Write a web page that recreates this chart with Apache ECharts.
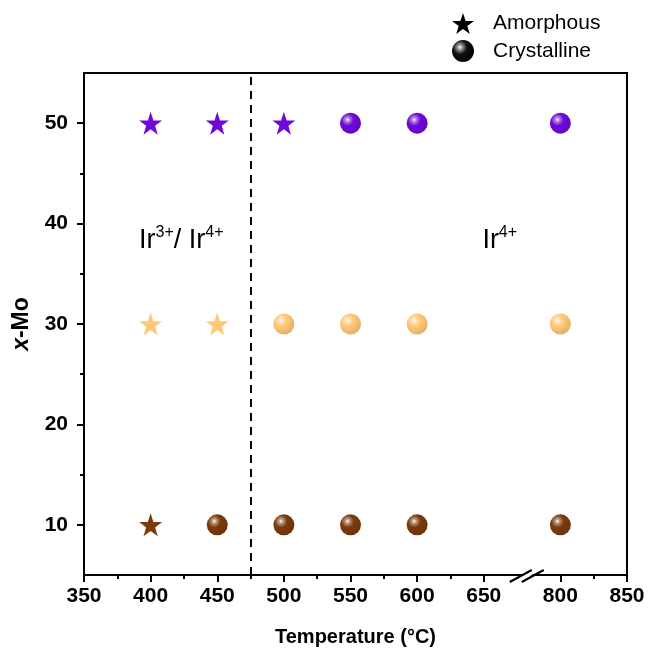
<!DOCTYPE html>
<html><head><meta charset="utf-8">
<script src="https://cdn.jsdelivr.net/npm/echarts@6/dist/echarts.min.js"></script>
<style>html,body{margin:0;padding:0;background:#fff}#c{width:648px;height:648px}</style>
</head><body><div id="c"></div>
<script>
// ---- data ----
const rows = [10, 30, 50];
const rowColors = ['#7a3b0c', '#ffc877', '#6f08d9'];
const amorphous10 = [400];
const amorphous30 = [400, 450];
const amorphous50 = [400, 450, 500];
const crystalline10 = [450, 500, 550, 600, 800];
const crystalline30 = [500, 550, 600, 800];
const crystalline50 = [550, 600, 800];
const xTickLabels = [350, 400, 450, 500, 550, 600, 650, 800, 850];
const xMinorTicks = [375, 425, 475, 525, 575, 625, 825];
const yTickLabels = [10, 20, 30, 40, 50];
const yMinorTicks = [15, 25, 35, 45];
const boundaryTemp = 475;

// broken axis: values above the break are shifted left
const BREAK_SHIFT = 92.5;
const toAxis = v => v > 700 ? v - BREAK_SHIFT : v;
const fromAxis = v => v > 690 ? Math.round(v + BREAK_SHIFT) : Math.round(v);

const starPath = 'path://M50,0 L61.8,35.1 L98.9,35.1 L69.1,57.1 L80.3,92.7 L50,71 L19.7,92.7 L30.9,57.1 L1.1,35.1 L38.2,35.1 Z';

function shade(hex, f) {
  const n = parseInt(hex.slice(1), 16);
  let r = n >> 16, g = (n >> 8) & 255, b = n & 255;
  if (f > 0) { r += (255 - r) * f; g += (255 - g) * f; b += (255 - b) * f; }
  else { r *= 1 + f; g *= 1 + f; b *= 1 + f; }
  return 'rgb(' + Math.round(r) + ',' + Math.round(g) + ',' + Math.round(b) + ')';
}
function sphere(hex) {
  return {
    type: 'radial', x: 0.36, y: 0.33, r: 0.7,
    colorStops: [
      { offset: 0, color: '#ffffff' },
      { offset: 0.14, color: shade(hex, 0.5) },
      { offset: 0.42, color: hex },
      { offset: 1, color: shade(hex, -0.12) }
    ]
  };
}

const amorphous = [amorphous10, amorphous30, amorphous50];
const crystalline = [crystalline10, crystalline30, crystalline50];
const series = [];
rows.forEach((y, i) => {
  series.push({
    name: 'a' + y, type: 'scatter', xAxisIndex: 0, yAxisIndex: 0,
    symbol: starPath, symbolSize: 23,
    itemStyle: { color: rowColors[i], opacity: 1 },
    data: amorphous[i].map(x => [toAxis(x), y]), z: 5
  });
  series.push({
    name: 'c' + y, type: 'scatter', xAxisIndex: 0, yAxisIndex: 0,
    symbol: 'circle', symbolSize: 21,
    itemStyle: { color: sphere(rowColors[i]), opacity: 1 },
    data: crystalline[i].map(x => [toAxis(x), y]), z: 5
  });
});
// legend-only series
series.push({ name: 'Amorphous', type: 'scatter', data: [], symbol: starPath, itemStyle: { color: '#000', opacity: 1 } });
series.push({ name: 'Crystalline', type: 'scatter', data: [], symbol: 'circle',
  itemStyle: { opacity: 1, color: { type: 'radial', x: 0.36, y: 0.33, r: 0.7,
    colorStops: [{ offset: 0, color: '#fff' }, { offset: 0.16, color: '#999' }, { offset: 0.45, color: '#111' }, { offset: 1, color: '#000' }] } } });
// boundary line + annotations
series.push({
  name: 'ann', type: 'scatter', symbolSize: 0, silent: true,
  itemStyle: { opacity: 1 },
  data: [
    { value: [423, 38.3], label: { formatter: '{n|Ir}{s|3+}{n|/ Ir}{s|4+}' } },
    { value: [662, 38.3], label: { formatter: '{n|Ir}{s|4+}' } }
  ],
  label: {
    show: true, position: 'inside', color: '#000', opacity: 1,
    rich: {
      n: { fontFamily: 'Liberation Sans', fontSize: 27, color: '#000' },
      s: { fontFamily: 'Liberation Sans', fontSize: 16, color: '#000', padding: [0, 0, 16, 0] }
    }
  },
  markLine: {
    silent: true, symbol: 'none', label: { show: false },
    lineStyle: { color: '#000', type: [8, 6], width: 2, opacity: 1 },
    data: [{ xAxis: boundaryTemp }]
  }
});

const axisCommon = {
  type: 'value', axisLine: { show: false }, splitLine: { show: false }
};
const option = {
  animation: false,
  grid: { left: 84, right: 21, top: 73, bottom: 73, outerBoundsMode: 'none', containLabel: false,
    show: true, borderColor: '#000', borderWidth: 2, backgroundColor: 'transparent' },
  legend: {
    orient: 'vertical', left: 447, top: 8, itemWidth: 22, itemHeight: 22, itemGap: 6,
    data: [{ name: 'Amorphous', icon: starPath }, { name: 'Crystalline', icon: 'circle' }],
    textStyle: { fontFamily: 'Liberation Sans', fontSize: 21, color: '#000', padding: [0, 0, 0, 14] }
  },
  xAxis: [
    Object.assign({}, axisCommon, {
      position: 'bottom', min: 350, max: 850 - BREAK_SHIFT,
      axisLine: { show: true, onZero: false, lineStyle: { color: '#000', width: 2 } },
      axisTick: { show: true, length: 7, lineStyle: { color: '#000', width: 2 }, customValues: xTickLabels.map(toAxis) },
      axisLabel: { show: true, customValues: xTickLabels.map(toAxis), formatter: v => String(fromAxis(v)),
        fontFamily: 'Liberation Sans', fontWeight: 'bold', fontSize: 21, color: '#000', margin: 11 },
      name: 'Temperature (°C)', nameLocation: 'middle', nameGap: 52,
      nameTextStyle: { fontFamily: 'Liberation Sans', fontWeight: 'bold', fontSize: 20, color: '#000' }
    }),
    Object.assign({}, axisCommon, {
      position: 'bottom', offset: 0, min: 350, max: 850 - BREAK_SHIFT,
      axisTick: { show: true, length: 4, lineStyle: { color: '#000', width: 2 }, customValues: xMinorTicks.map(toAxis) },
      axisLabel: { show: false }
    })
  ],
  yAxis: [
    Object.assign({}, axisCommon, {
      position: 'left', min: 5, max: 55,
      axisLine: { show: true, onZero: false, lineStyle: { color: '#000', width: 2 } },
      axisTick: { show: true, length: 7, lineStyle: { color: '#000', width: 2 }, customValues: yTickLabels },
      axisLabel: { show: true, customValues: yTickLabels,
        fontFamily: 'Liberation Sans', fontWeight: 'bold', fontSize: 21, color: '#000', margin: 16 },
      name: '{i|x}-Mo', nameLocation: 'middle', nameGap: 51,
      nameTextStyle: { fontFamily: 'Liberation Sans', fontWeight: 'bold', fontSize: 23, color: '#000',
        rich: { i: { fontFamily: 'Liberation Sans', fontWeight: 'bold', fontStyle: 'italic', fontSize: 23, color: '#000' } } }
    }),
    Object.assign({}, axisCommon, {
      position: 'left', offset: 0, min: 5, max: 55,
      axisTick: { show: true, length: 4, lineStyle: { color: '#000', width: 2 }, customValues: yMinorTicks },
      axisLabel: { show: false }
    })
  ],
  series: series
};
const chart = echarts.init(document.getElementById('c'), null, { renderer: 'canvas' });
chart.setOption(option);

// axis break mark "//"
const bx = chart.convertToPixel({ xAxisIndex: 0 }, 683);
const by = chart.convertToPixel({ yAxisIndex: 0 }, 5);
chart.setOption({
  graphic: [
    { type: 'polygon', z: 100, shape: { points: [[bx - 12, by + 6], [bx - 4, by + 6], [bx + 12, by - 6], [bx + 4, by - 6]] }, style: { fill: '#fff' } },
    { type: 'line', z: 101, shape: { x1: bx - 18, y1: by + 7, x2: bx + 4, y2: by - 5 }, style: { stroke: '#000', lineWidth: 2 } },
    { type: 'line', z: 101, shape: { x1: bx - 6, y1: by + 7, x2: bx + 16, y2: by - 5 }, style: { stroke: '#000', lineWidth: 2 } }
  ]
});
</script></body></html>
